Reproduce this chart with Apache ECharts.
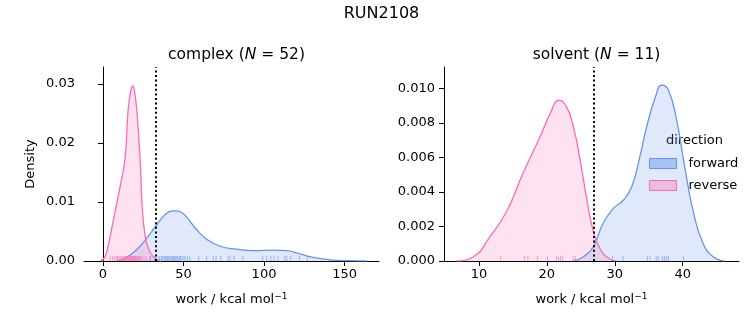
<!DOCTYPE html>
<html>
<head>
<meta charset="utf-8">
<script src="https://cdn.jsdelivr.net/npm/echarts@6/dist/echarts.min.js"></script>
<style>
html,body{margin:0;padding:0;background:#fff;}
#chart{width:753px;height:325px;}
</style>
</head>
<body>
<div id="chart"></div>
<script>
// ---- data ----
const suptitle = 'RUN2108';
const panelNames = ['complex', 'solvent'];
const panelN = [52, 11];
const directions = ['forward', 'reverse'];

// complex KDE curves (work, density)
const complexForwardX = [8.5, 12.5, 16.8, 22.0, 27.1, 33.3, 39.6, 44.7, 49.9, 58.2, 64.4, 72.7, 83.0, 93.4, 105.8, 114.1, 122.4, 130.6, 141.0, 152.0, 163.8];
const complexForwardY = [0, 0.0003, 0.0010, 0.0022, 0.00385, 0.0061, 0.0081, 0.0085, 0.0080, 0.0053, 0.0037, 0.0025, 0.0020, 0.00175, 0.00186, 0.00175, 0.0012, 0.0006, 0.0002, 0.00005, 0];
const complexReverseX = [-1.9, 1.2, 3.3, 5.4, 7.9, 11.2, 13.7, 15.7, 17.4, 18.4, 19.4, 20.9, 23.0, 24.4, 26.1, 28.2, 31.3, 34.4, 36.4];
const complexReverseY = [0, 0.0007, 0.0027, 0.0055, 0.0089, 0.0134, 0.0174, 0.0259, 0.0290, 0.0297, 0.0290, 0.0259, 0.0174, 0.0089, 0.0044, 0.0021, 0.0007, 0.0001, 0];

// solvent KDE curves
const solventForwardX = [23.9, 25.4, 26.8, 28.3, 29.8, 31.3, 32.5, 33.7, 34.7, 36.0, 36.9, 37.9, 39.1, 40.3, 41.6, 43.0, 44.5, 46.2];
const solventForwardY = [0, 0.00025, 0.0008, 0.0022, 0.00305, 0.00354, 0.0043, 0.00605, 0.00779, 0.00952, 0.0102, 0.00991, 0.0082, 0.00547, 0.0028, 0.00103, 0.00025, 0];
const solventReverseX = [6.7, 9.2, 11.6, 14.1, 16.5, 19.0, 20.5, 21.8, 22.9, 23.9, 24.9, 25.9, 26.8, 27.8, 29.3, 30.3];
const solventReverseY = [0, 0.00025, 0.0014, 0.0029, 0.0051, 0.0072, 0.00856, 0.00933, 0.00894, 0.00779, 0.00586, 0.00354, 0.0018, 0.00074, 0.0001, 0];

// rug samples
const complexForwardRug = [29.5, 31.8, 33.5, 35.0, 36.2, 37.1, 38.0, 38.6, 39.3, 40.1, 40.8, 41.5, 42.3, 43.0, 43.6, 44.2, 45.0, 45.8, 46.5, 47.3, 48.1, 49.0, 50.2, 51.0, 52.5, 54.0, 59.4, 64.4, 68.5, 70.2, 73.1, 77.6, 78.9, 81.4, 86.8, 99.2, 101.7, 104.2, 106.2, 108.7, 112.9, 114.1, 116.6, 121.9, 126.9];
const complexReverseRug = [4.5, 6.0, 7.2, 8.3, 9.0, 9.8, 10.5, 11.2, 11.8, 12.4, 13.0, 13.5, 14.0, 14.6, 15.0, 15.5, 16.0, 16.4, 16.8, 17.2, 17.6, 18.0, 18.3, 18.7, 19.0, 19.4, 19.8, 20.2, 20.6, 21.0, 21.5, 22.0, 22.6, 23.3, 24.0, 25.5, 27.0, 29.0];
const solventForwardRug = [29.7, 31.2, 34.8, 35.2, 36.1, 36.4, 37.0, 37.3, 37.6, 37.9, 40.1];
const solventReverseRug = [13.2, 16.7, 17.2, 18.6, 20.1, 21.4, 21.7, 22.0, 22.3, 23.9, 24.2];

// dotted reference lines
const refLines = [32.9, 26.9];

// axes
const xRanges = [[-11.8, 171.4], [4.85, 48.3]];
const yRanges = [[0, 0.0329], [0, 0.01125]];
const xTicks = [[0, 50, 100, 150], [10, 20, 30, 40]];
const yTicks = [[0, 0.01, 0.02, 0.03], [0, 0.002, 0.004, 0.006, 0.008, 0.010]];
const yDecimals = [2, 3];

// ---- styling ----
const FONT = 'DejaVu Sans';
const colors = { forward: '#6495ED', reverse: '#FF69B4' };
const fills = { forward: 'rgba(100,149,237,0.29)', reverse: 'rgba(255,105,180,0.28)' };
const rugColors = { forward: 'rgba(100,149,237,0.75)', reverse: 'rgba(255,105,180,0.75)' };

function zip(xs, ys) { return xs.map((x, i) => [x, ys[i]]); }

const curves = [
  { forward: zip(complexForwardX, complexForwardY), reverse: zip(complexReverseX, complexReverseY) },
  { forward: zip(solventForwardX, solventForwardY), reverse: zip(solventReverseX, solventReverseY) }
];
const rugs = [
  { forward: complexForwardRug, reverse: complexReverseRug },
  { forward: solventForwardRug, reverse: solventReverseRug }
];

const grids = [
  { left: 84, right: 374, top: 67, bottom: 64 },
  { left: 444, right: 14, top: 67, bottom: 64 }
];

const xAxes = [0, 1].map(i => ({
  type: 'value', gridIndex: i, min: xRanges[i][0], max: xRanges[i][1],
  name: '{a|work / kcal mol}{s|\u22121}', nameLocation: 'middle', nameGap: 31,
  nameTextStyle: { fontFamily: FONT, fontSize: 13, color: '#000',
    rich: { a: { fontFamily: FONT, fontSize: 13, color: '#000' },
            s: { fontFamily: FONT, fontSize: 9, color: '#000', verticalAlign: 'top', padding: [0, 0, 6, 0] } } },
  axisLine: { show: true, onZero: false, lineStyle: { color: '#000', width: 1 } },
  axisTick: { show: true, length: 5, customValues: xTicks[i], lineStyle: { color: '#000' } },
  axisLabel: { customValues: xTicks[i], margin: 7, fontFamily: FONT, fontSize: 13, color: '#000' },
  splitLine: { show: false }
}));
const yAxes = [0, 1].map(i => ({
  type: 'value', gridIndex: i, min: yRanges[i][0], max: yRanges[i][1],
  name: i === 0 ? 'Density' : '', nameLocation: 'middle', nameGap: 47, nameRotate: 90,
  nameTextStyle: { fontFamily: FONT, fontSize: 13, color: '#000' },
  axisLine: { show: true, lineStyle: { color: '#000', width: 1 } },
  axisTick: { show: true, length: 5, customValues: yTicks[i], lineStyle: { color: '#000' } },
  axisLabel: { customValues: yTicks[i], margin: 9, fontFamily: FONT, fontSize: 13, color: '#000',
    formatter: v => Number(v).toFixed(yDecimals[i]) },
  splitLine: { show: false }
}));

const series = [];
[0, 1].forEach(i => {
  directions.forEach(d => {
    series.push({
      name: d, type: 'line', xAxisIndex: i, yAxisIndex: i,
      data: curves[i][d], smooth: 0.5, showSymbol: false, symbol: 'none',
      lineStyle: { color: colors[d], width: 1.3 },
      itemStyle: { color: colors[d] },
      areaStyle: { color: fills[d], origin: 'start' },
      silent: true, z: 2
    });
  });
  directions.forEach(d => {
    series.push({
      name: d + '-rug', type: 'scatter', xAxisIndex: i, yAxisIndex: i,
      data: rugs[i][d].map(v => [v, 0]),
      symbol: 'rect', symbolSize: [1, 5], symbolOffset: [0, -2.5],
      itemStyle: { color: rugColors[d] }, silent: true, z: 3
    });
  });
  series.push({
    name: 'ref' + i, type: 'line', xAxisIndex: i, yAxisIndex: i, data: [], silent: true,
    markLine: {
      symbol: 'none', silent: true, label: { show: false },
      lineStyle: { color: '#000', type: [2, 2.6], width: 2 },
      data: [[{ coord: [refLines[i], yRanges[i][0]] }, { coord: [refLines[i], yRanges[i][1]] }]]
    },
    z: 4
  });
});

const titleRich = {
  a: { fontFamily: FONT, fontSize: 15.5, color: '#000', fontWeight: 'normal' },
  i: { fontFamily: FONT, fontSize: 15.5, color: '#000', fontStyle: 'italic', fontWeight: 'normal' }
};

const option = {
  animation: false,
  backgroundColor: '#fff',
  title: [
    { text: suptitle, left: 376.5, top: 1, textAlign: 'center',
      textStyle: { fontFamily: FONT, fontSize: 16, fontWeight: 'normal', color: '#000' } },
    { text: '{a|' + panelNames[0] + ' (}{i|N}{a| = ' + panelN[0] + ')}', left: 231.5, top: 42, textAlign: 'center',
      textStyle: { fontWeight: 'normal', rich: titleRich } },
    { text: '{a|' + panelNames[1] + ' (}{i|N}{a| = ' + panelN[1] + ')}', left: 591.5, top: 42, textAlign: 'center',
      textStyle: { fontWeight: 'normal', rich: titleRich } }
  ],
  legend: {
    orient: 'vertical', left: 649, top: 157, padding: 0, itemWidth: 27, itemHeight: 10, itemGap: 9,
    icon: 'rect',
    textStyle: { fontFamily: FONT, fontSize: 13, color: '#000', padding: [0, 0, 0, 7] },
    data: directions.map(d => ({
      name: d, icon: 'rect',
      itemStyle: { color: d === 'forward' ? 'rgba(100,149,237,0.45)' : 'rgba(255,105,180,0.35)', borderColor: colors[d], borderWidth: 1 }
    })),
    selectedMode: false
  },
  graphic: [
    { type: 'text', left: 666, top: 134, silent: true,
      style: { text: 'direction', fontFamily: FONT, fontSize: 13, fill: '#000' } }
  ],
  grid: grids,
  xAxis: xAxes,
  yAxis: yAxes,
  series: series
};

const chart = echarts.init(document.getElementById('chart'), null, { renderer: 'canvas' });
chart.setOption(option);
</script>
</body>
</html>
